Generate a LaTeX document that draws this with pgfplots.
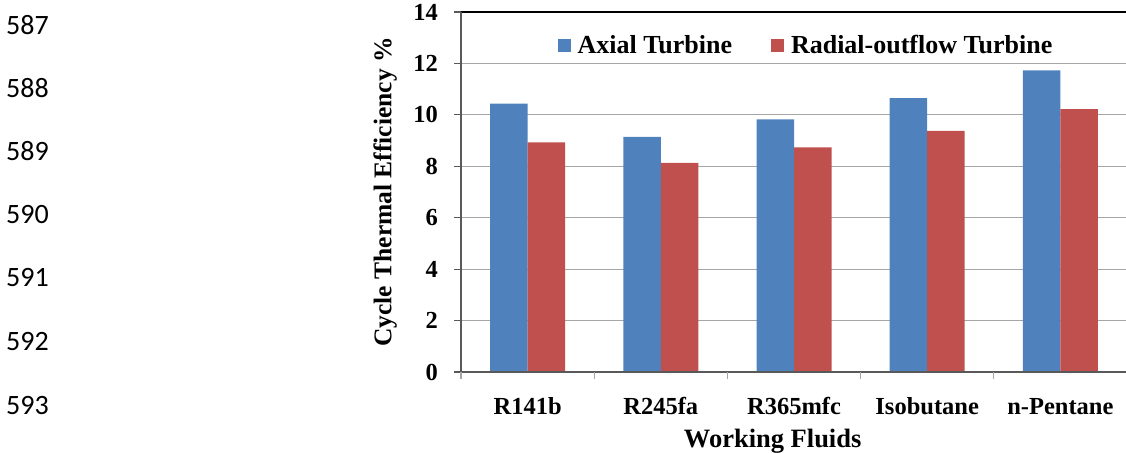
\documentclass[border=0pt]{standalone}
\usepackage{fontspec}
\setmainfont{Liberation Serif}
\newfontfamily\linenofont{Carlito}
\usepackage{pgfplots}
\pgfplotsset{compat=1.18}

\definecolor{axialblue}{HTML}{4F81BD}
\definecolor{radialred}{HTML}{C0504D}
\definecolor{gridgray}{HTML}{A6A6A6}
\definecolor{axisgray}{HTML}{595959}

\begin{document}
\begin{tikzpicture}
\useasboundingbox (0,0) rectangle (1126bp,453bp);

% manuscript line numbers
\foreach \n/\y in {587/428,588/365,589/302,590/238,591/175,592/111,593/47}
  \node[anchor=west, inner sep=0pt, font=\linenofont\fontsize{28bp}{30bp}\selectfont] at (6bp,\y bp) {\n};

\begin{axis}[
  at={(461bp,81bp)}, anchor=south west,
  scale only axis, width=666bp, height=360bp,
  ybar=0pt, bar width=37.5bp,
  xmin=-0.5, xmax=4.5, ymin=0, ymax=14,
  xtick={0,1,2,3,4},
  xticklabels={R141b,R245fa,R365mfc,Isobutane,n-Pentane},
  x tick style={draw=none},
  ytick={0,2,...,14},
  y tick style={draw=axisgray, line width=1.2bp},
  tick align=outside, ytick pos=left, xtick pos=bottom,
  major tick length=7bp,
  ymajorgrids, grid style={gridgray, line width=1bp},
  axis line style={draw=none},
  /pgf/number format/assume math mode=true,
  tick label style={font=\bfseries\fontsize{24.5bp}{26bp}\selectfont},
  y tick label style={anchor=east, inner sep=0pt, xshift=-16bp},
  x tick label style={anchor=base, inner sep=0pt, yshift=-35bp},
  xlabel={Working Fluids},
  ylabel={Cycle Thermal Efficiency \%},
  xlabel style={font=\bfseries\fontsize{26.5bp}{28bp}\selectfont,
    at={(axis description cs:0.468,-0.192)}, anchor=center, inner sep=0pt},
  ylabel style={font=\bfseries\fontsize{25.5bp}{27bp}\selectfont,
    at={(axis description cs:-0.114,0.5)}, anchor=center, inner sep=0pt},
  legend columns=2,
  legend cell align=left,
  legend style={draw=none, fill=none, at={(rel axis cs:0.5165,0.908)}, anchor=center,
    inner sep=0pt, nodes={inner sep=0pt},
    font=\bfseries\fontsize{26bp}{28bp}\selectfont,
    /tikz/every odd column/.append style={column sep=7bp},
    /tikz/every even column/.append style={column sep=39bp}},
  legend image code/.code={\fill[#1] (0bp,-6.5bp) rectangle (13bp,6.5bp);},
  clip=false,
]
\addplot[fill=axialblue, draw=none] coordinates {
  (0,10.44) (1,9.14) (2,9.82) (3,10.65) (4,11.73)};
\addlegendentry{Axial Turbine}
\addplot[fill=radialred, draw=none] coordinates {
  (0,8.93) (1,8.13) (2,8.74) (3,9.38) (4,10.22)};
\addlegendentry{Radial-outflow Turbine}

% frame: black top border, grey left and bottom axis lines
\draw[black, line width=2.5bp] (rel axis cs:0,1) -- (rel axis cs:1,1);
\draw[black, line width=2bp] (rel axis cs:1,0) -- (rel axis cs:1,1);
\draw[axisgray, line width=2.6bp] (rel axis cs:0,0) -- (rel axis cs:0,1);
\draw[axisgray, line width=2.6bp] (rel axis cs:0,0) -- (rel axis cs:1,0);
% category separators below the x axis
\pgfplotsinvokeforeach{-0.5,0.5,1.5,2.5,3.5}{
  \draw[gridgray, line width=1.2bp] (axis cs:#1,0) -- ([yshift=-7bp]axis cs:#1,0);
}
\end{axis}
\end{tikzpicture}
\end{document}
